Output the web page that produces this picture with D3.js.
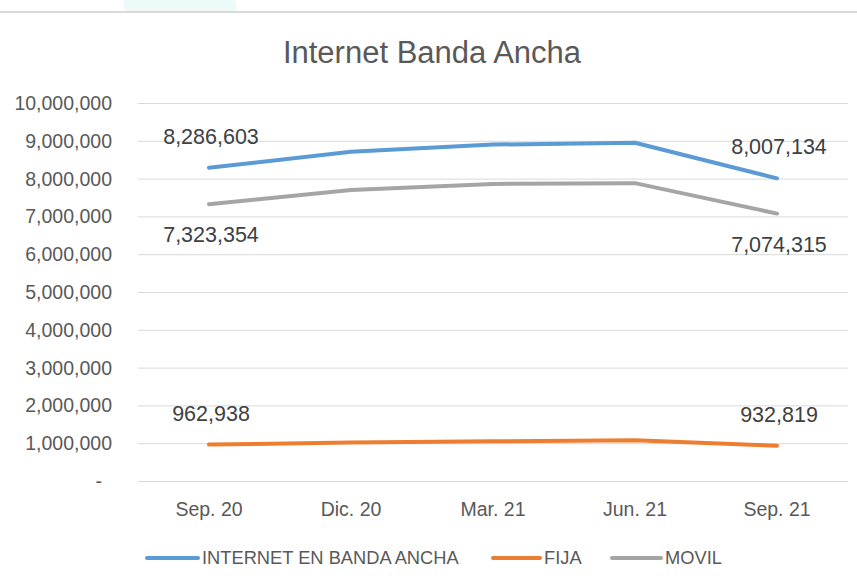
<!DOCTYPE html>
<html lang="es">
<head>
<meta charset="UTF-8">
<title>Internet Banda Ancha</title>
<script src="https://d3js.org/d3.v7.min.js"></script>
<style>
    body { margin: 0; background: #fff; }
    svg text { font-family: "Liberation Sans", Arial, sans-serif; }
</style>
</head>
<body>
<svg width="857" height="586"></svg>
<script>
    // data
    const periods = ["Sep. 20", "Dic. 20", "Mar. 21", "Jun. 21", "Sep. 21"];
    const internet = [8286603, 8710000, 8900000, 8950000, 8007134];
    const fija = [962938, 1020000, 1050000, 1075000, 932819];
    const movil = [7323354, 7700000, 7860000, 7880000, 7074315];
    const yTicks = [0, 1000000, 2000000, 3000000, 4000000, 5000000, 6000000, 7000000, 8000000, 9000000, 10000000];

    const series = [
        { name: "INTERNET EN BANDA ANCHA", values: internet, color: "#5b9bd5", label: "above" },
        { name: "FIJA", values: fija, color: "#ed7d31", label: "above" },
        { name: "MOVIL", values: movil, color: "#a5a5a5", label: "below" }
    ];

    const svg = d3.select("svg");

    // top strip of the page
    svg.append("path")
        .attr("d", "M123,0 L235,0 L237,11 L125,11 Z")
        .attr("fill", "#eefafa");
    svg.append("rect")
        .attr("x", 0).attr("y", 11).attr("width", 857).attr("height", 2)
        .attr("fill", "#d9d9d9");

    const x = d3.scaleBand().domain(periods).range([138, 848]);
    const y = d3.scaleLinear().domain([0, 10000000]).range([481, 103]);
    const fmt = d3.format(",");

    // title
    svg.append("text")
        .attr("x", 432).attr("y", 63)
        .attr("text-anchor", "middle")
        .attr("fill", "#595959")
        .style("font-size", "31px")
        .text("Internet Banda Ancha");

    // gridlines
    svg.append("g")
        .selectAll("line")
        .data(yTicks)
        .join("line")
        .attr("x1", 138).attr("x2", 848)
        .attr("y1", d => y(d) + 0.5).attr("y2", d => y(d) + 0.5)
        .attr("stroke", "#d9d9d9");

    // y axis labels
    svg.append("g")
        .selectAll("text")
        .data(yTicks)
        .join("text")
        .attr("x", d => d === 0 ? 102 : 112)
        .attr("y", d => y(d) + 7)
        .attr("text-anchor", "end")
        .attr("fill", "#595959")
        .style("font-size", "19.5px")
        .text(d => d === 0 ? "-" : fmt(d));

    // x axis labels
    svg.append("g")
        .selectAll("text")
        .data(periods)
        .join("text")
        .attr("x", d => x(d) + x.bandwidth() / 2)
        .attr("y", 516)
        .attr("text-anchor", "middle")
        .attr("fill", "#595959")
        .style("font-size", "19.5px")
        .text(d => d);

    const line = d3.line()
        .x((d, i) => x(periods[i]) + x.bandwidth() / 2)
        .y(d => y(d));

    series.forEach(s => {
        svg.append("path")
            .datum(s.values)
            .attr("d", line)
            .attr("fill", "none")
            .attr("stroke", s.color)
            .attr("stroke-width", 4)
            .attr("stroke-linecap", "round")
            .attr("stroke-linejoin", "round");

        // labels only on first and last point
        [0, periods.length - 1].forEach(i => {
            svg.append("text")
                .attr("x", x(periods[i]) + x.bandwidth() / 2 + 2)
                .attr("y", y(s.values[i]) + (s.label === "above" ? -24 : 38))
                .attr("text-anchor", "middle")
                .attr("fill", "#404040")
                .style("font-size", "21.5px")
                .text(fmt(s.values[i]));
        });
    });

    // legend
    const legendItems = [
        { x1: 147, x2: 198, tx: 202 },
        { x1: 493, x2: 540, tx: 544 },
        { x1: 612, x2: 661, tx: 665 }
    ];
    series.forEach((s, i) => {
        const l = legendItems[i];
        svg.append("line")
            .attr("x1", l.x1).attr("x2", l.x2)
            .attr("y1", 558).attr("y2", 558)
            .attr("stroke", s.color)
            .attr("stroke-width", 4)
            .attr("stroke-linecap", "round");
        svg.append("text")
            .attr("x", l.tx).attr("y", 564)
            .attr("fill", "#595959")
            .style("font-size", "18.3px")
            .text(s.name);
    });
</script>
</body>
</html>
